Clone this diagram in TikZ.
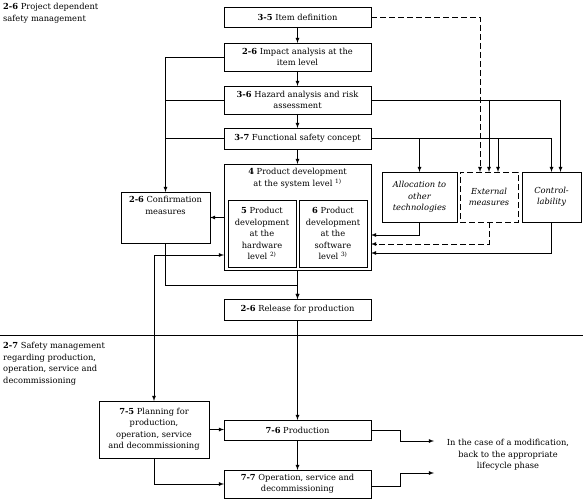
\documentclass[tikz,border=0pt]{standalone}
\usepackage{fontspec}
\setmainfont{DejaVu Serif}
\usetikzlibrary{positioning}

\tikzset{
  box/.style={draw, line width=0.8pt, align=center, inner sep=1pt, outer sep=0pt,
    font=\fontsize{8.3}{11.5}\selectfont},
  dbox/.style={box, dash pattern=on 6pt off 3pt},
  txt/.style={align=center, inner sep=1pt, font=\fontsize{8.3}{11.5}\selectfont},
  flow/.style={line width=0.8pt, -latex},
  dflow/.style={flow, dash pattern=on 6pt off 3pt},
  wire/.style={line width=0.8pt}
}

\begin{document}
\begin{tikzpicture}[x=1pt, y=-1pt]
    \useasboundingbox (0,0) rectangle (583,500);

    % Section titles
    \node[txt, align=left, anchor=north west] (titleA) at (2,2) {\textbf{2-6} Project dependent\\safety management};
    \node[txt, align=left, anchor=north west] (titleB) at (2,341) {\textbf{2-7} Safety management\\regarding production,\\operation, service and\\decommissioning};

    % Divider
    \draw[line width=0.8pt] (0,335) -- (583,335);

    % Main column
    \node[box, minimum width=147pt, minimum height=20pt] (item) at (297.5,17) {\textbf{3-5} Item definition};
    \node[box, minimum width=147pt, minimum height=28pt] (impact) at (297.5,57) {\textbf{2-6} Impact analysis at the\\item level};
    \node[box, minimum width=147pt, minimum height=28pt] (hazard) at (297.5,100) {\textbf{3-6} Hazard analysis and risk\\assessment};
    \node[box, minimum width=147pt, minimum height=21pt] (fsc) at (297.5,138.5) {\textbf{3-7} Functional safety concept};
    \node[box, minimum width=147pt, minimum height=106pt] (prod) at (297.5,217) {};
    \node[txt, below=3pt of prod.north] (prodtxt) {\textbf{4} Product development\\at the system level \textsuperscript{1)}};
    \node[box, minimum width=68pt, minimum height=67pt] (hw) at (262,233.5) {\textbf{5} Product\\development\\at the\\hardware\\level \textsuperscript{2)}};
    \node[box, minimum width=68pt, minimum height=67pt] (sw) at (333,233.5) {\textbf{6} Product\\development\\at the\\software\\level \textsuperscript{3)}};
    \node[box, minimum width=147pt, minimum height=21pt] (release) at (297.5,309.5) {\textbf{2-6} Release for production};

    % Side boxes
    \node[box, minimum width=89pt, minimum height=51pt] (conf) at (165.5,217.5) {};
    \node[txt, below=3pt of conf.north] (conftxt) {\textbf{2-6} Confirmation\\measures};
    \node[box, minimum width=75pt, minimum height=50pt, font=\fontsize{8.3}{11.5}\selectfont\itshape] (alloc) at (419.5,197) {Allocation to\\other\\technologies};
    \node[dbox, minimum width=58pt, minimum height=50pt, font=\fontsize{8.3}{11.5}\selectfont\itshape] (extm) at (489,197) {External\\measures};
    \node[box, minimum width=59pt, minimum height=50pt, font=\fontsize{8.3}{11.5}\selectfont\itshape] (ctrl) at (551.5,197) {Control-\\lability};

    % Production phase
    \node[box, minimum width=110pt, minimum height=57pt] (plan) at (154,429.5) {\textbf{7-5} Planning for\\production,\\operation, service\\and decommissioning};
    \node[box, minimum width=147pt, minimum height=20pt] (prod76) at (297.5,430) {\textbf{7-6} Production};
    \node[box, minimum width=147pt, minimum height=28pt] (oper) at (297.5,484) {\textbf{7-7} Operation, service and\\decommissioning};
    \node[txt] (note) at (508,455) {In the case of a modification,\\back to the appropriate\\lifecycle phase};

    % Helper points
    \coordinate (e1) at ([xshift=-9pt]extm.north);
    \coordinate (e3) at ([xshift=9pt]extm.north);
    \coordinate (c2) at ([xshift=9pt]ctrl.north);
    \coordinate (mod1) at (434,441);
    \coordinate (mod2) at (434,473);

    % Main flow
    \draw[flow] (item) -- (impact);
    \draw[flow] (impact) -- (hazard);
    \draw[flow] (hazard) -- (fsc);
    \draw[flow] (fsc) -- (prod);
    \draw[flow] (prod) -- (release);
    \draw[flow] (release) -- (prod76);
    \draw[flow] (prod76) -- (oper);

    % Confirmation measures
    \draw[flow] (impact.west) -| (conf.north);
    \draw[wire] (hazard.west) -- (hazard.west -| conf.north);
    \draw[wire] (fsc.west) -- (fsc.west -| conf.north);
    \draw[flow] (prod.west |- conf.east) -- (conf.east);
    \draw[flow] (conf.south) |- ([yshift=14pt]release.north) -- (release.north);

    % Other technologies, external measures, controllability
    \draw[dflow] (item.east) -| (e1);
    \draw[flow] (hazard.east) -| (c2);
    \draw[flow] (hazard.east -| extm.north) -- (extm.north);
    \draw[flow] (fsc.east) -| (ctrl.north);
    \draw[flow] (fsc.east -| alloc.north) -- (alloc.north);
    \draw[flow] (fsc.east -| e3) -- (e3);
    \draw[flow] (alloc.south) |- ([yshift=-18pt]prod.east);
    \draw[dflow] (extm.south) |- ([yshift=-27pt]prod.east);
    \draw[flow] (ctrl.south) |- ([yshift=-36pt]prod.east);

    % Planning and production
    \draw[flow, latex-latex] (plan.north) |- ([yshift=-38pt]prod.west);
    \draw[flow] (plan.east) -- (plan.east -| prod76.west);
    \draw[flow] (plan.south) |- (oper.west);
    \draw[flow] (prod76.east) -- ++(29,0) |- (mod1);
    \draw[flow] ([yshift=-2pt]oper.east) -- ++(29,0) |- (mod2);

\end{tikzpicture}
\end{document}
